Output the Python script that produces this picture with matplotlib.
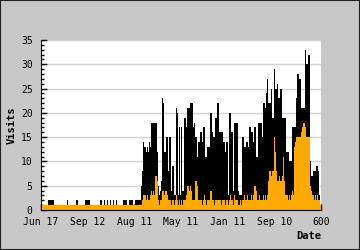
import numpy as np
import matplotlib
matplotlib.use('Agg')
import matplotlib.pyplot as plt
from matplotlib.patches import Rectangle

# wizyty (czarne) i druga seria (pomarańczowa), jedna wartość na kolumnę
visits = [
    1, 1, 1, 1, 1, 1, 1, 2, 2, 2, 2, 2, 2, 1, 1, 1, 1, 1, 1, 1,
    1, 1, 1, 1, 1, 1, 2, 1, 1, 1, 1, 1, 1, 1, 1, 2, 2, 1, 1, 1,
    1, 1, 1, 1, 2, 2, 2, 2, 2, 1, 1, 1, 1, 1, 1, 1, 1, 1, 1, 2,
    2, 1, 1, 2, 1, 1, 2, 1, 1, 2, 1, 1, 2, 1, 1, 2, 1, 1, 1, 1,
    1, 1, 2, 2, 2, 2, 1, 1, 2, 2, 2, 2, 1, 1, 2, 2, 2, 2, 2, 2,
    5, 8, 14, 13, 13, 12, 13, 12, 14, 13, 18, 18, 18, 18, 18, 18, 12, 5, 3, 4,
    6, 23, 22, 12, 12, 15, 15, 8, 15, 15, 4, 9, 9, 3, 3, 21, 20, 3, 17, 3,
    17, 4, 4, 19, 19, 17, 21, 21, 21, 22, 22, 22, 17, 18, 15, 15, 11, 14, 14, 16,
    16, 14, 17, 17, 11, 11, 13, 13, 13, 20, 20, 16, 15, 15, 19, 19, 22, 22, 16, 16,
    16, 16, 14, 14, 12, 14, 14, 3, 20, 20, 16, 16, 4, 18, 18, 18, 18, 4, 3, 3,
    3, 15, 15, 13, 13, 14, 14, 13, 17, 17, 16, 16, 14, 17, 17, 11, 11, 18, 18, 18,
    18, 15, 22, 22, 21, 24, 27, 22, 22, 22, 25, 19, 19, 29, 25, 25, 26, 23, 23, 25,
    25, 19, 19, 19, 19, 12, 12, 12, 10, 10, 10, 17, 17, 17, 17, 23, 28, 28, 27, 27,
    21, 21, 21, 21, 33, 30, 30, 32, 32, 10, 7, 7, 8, 8, 8, 9, 9, 8, 3, 1,
]
pages = [1] * 100 + [
    1, 2, 3, 3, 3, 2, 3, 2, 2, 3, 4, 3, 4, 3, 7, 7, 6, 2, 1, 2,
    2, 4, 4, 3, 4, 4, 3, 2, 2, 2, 1, 2, 2, 1, 2, 3, 2, 1, 2, 1,
    2, 1, 2, 2, 2, 3, 5, 5, 4, 5, 4, 2, 2, 2, 6, 6, 5, 2, 2, 2,
    2, 1, 2, 3, 2, 1, 2, 2, 2, 4, 4, 2, 2, 1, 2, 2, 2, 2, 2, 2,
    1, 2, 2, 2, 1, 2, 2, 1, 2, 3, 2, 2, 1, 3, 2, 2, 2, 1, 1, 2,
    1, 2, 2, 3, 2, 2, 3, 2, 2, 2, 3, 2, 3, 5, 5, 4, 2, 2, 3, 2,
    2, 2, 3, 2, 3, 2, 3, 6, 8, 8, 7, 8, 8, 15, 12, 8, 6, 6, 7, 6,
    6, 7, 11, 6, 3, 3, 3, 2, 3, 2, 3, 4, 3, 13, 14, 15, 15, 15, 15, 15,
    16, 17, 18, 18, 17, 15, 15, 15, 15, 5, 4, 3, 3, 2, 3, 2, 3, 2, 2, 1,
]
tick_pos = [0, 100, 200, 300, 400, 500, 600]
tick_labels = ['Jun 17', 'Sep 12', 'Aug 11', 'May 11', 'Jan 11', 'Sep 10', '600']

n = len(visits)
x = np.arange(n) * 600 / n
w = 600 / n

fig = plt.figure(figsize=(3.6, 2.5), dpi=100, facecolor='#c8c8c8')
ax = fig.add_axes([41 / 360, 40 / 250, 280 / 360, 170 / 250])
ax.set_facecolor('white')

ax.set_axisbelow(True)
ax.yaxis.grid(True, color='#d4d4d4', linewidth=1)
ax.bar(x, visits, width=w, align='edge', color='black', linewidth=0, antialiased=False)
ax.bar(x, pages, width=w, align='edge', color='#ffaa00', linewidth=0, antialiased=False)

ax.set_xlim(0, 600)
ax.set_ylim(0, 35)
ax.set_xticks(tick_pos)
ax.set_xticklabels(tick_labels)
ax.set_yticks(range(0, 36, 5))
ax.set_yticks(range(0, 36), minor=True)
ax.tick_params(axis='both', which='major', direction='in', length=4, width=1,
               labelsize=7, colors='black')
ax.tick_params(axis='x', which='major', length=4, pad=5)
ax.tick_params(axis='y', which='major', pad=6)
ax.tick_params(axis='y', which='minor', direction='in', length=2, width=1)
for lab in ax.get_xticklabels() + ax.get_yticklabels():
    lab.set_family('DejaVu Sans Mono')

ax.spines['top'].set_visible(False)
ax.spines['right'].set_visible(False)

fig.text(12 / 360, 125 / 250, 'Visits', rotation=90, ha='center', va='center',
         fontsize=7.5, fontweight='bold', family='DejaVu Sans Mono')
fig.text(321 / 360, 14 / 250, 'Date', ha='right', va='center',
         fontsize=7.5, fontweight='bold', family='DejaVu Sans Mono')

fig.patches.append(Rectangle((0, 0), 1, 1, transform=fig.transFigure, fill=False,
                             edgecolor='#202020', linewidth=1.5))

fig.savefig('out.png', dpi=100, facecolor=fig.get_facecolor())
